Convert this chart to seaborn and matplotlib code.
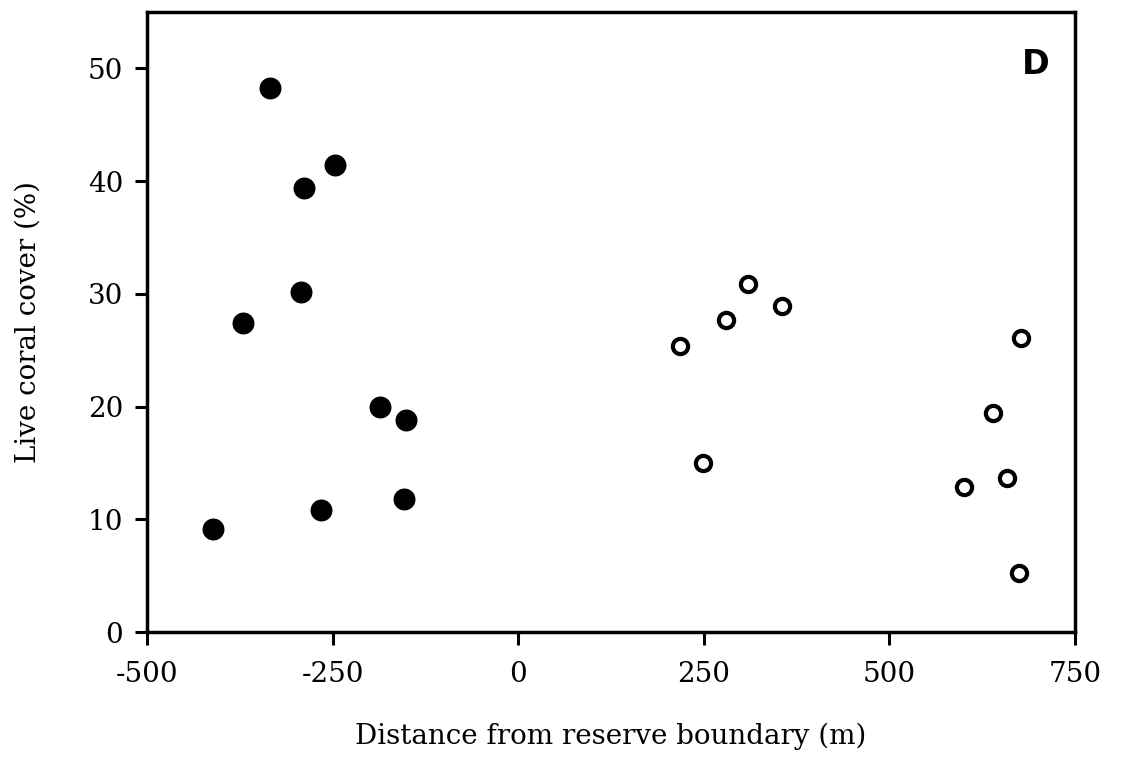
import matplotlib
matplotlib.use("Agg")
import matplotlib.pyplot as plt
import seaborn as sns
import pandas as pd

# Data
inside_distance = [-334, -247, -288, -293, -370, -186, -151, -154, -265, -411]
inside_cover = [48.3, 41.4, 39.4, 30.2, 27.4, 20.0, 18.8, 11.8, 10.8, 9.1]
outside_distance = [309, 355, 280, 218, 677, 640, 249, 601, 659, 674]
outside_cover = [30.9, 28.9, 27.7, 25.4, 26.1, 19.4, 15.0, 12.9, 13.7, 5.2]

x_ticks = [-500, -250, 0, 250, 500, 750]
y_ticks = [0, 10, 20, 30, 40, 50]
x_label = "Distance from reserve boundary (m)"
y_label = "Live coral cover (%)"
panel_label = "D"

sns.set_style("ticks")
plt.rcParams['font.family'] = ['DejaVu Serif']
plt.rcParams['text.color'] = 'black'
plt.rcParams['axes.labelcolor'] = 'black'

df_in = pd.DataFrame({"x": inside_distance, "y": inside_cover})
df_out = pd.DataFrame({"x": outside_distance, "y": outside_cover})

fig = plt.figure(figsize=(11.21, 7.58), dpi=100)
ax = fig.add_axes([0.1311, 0.1662, 0.959 - 0.1311, 0.9842 - 0.1662])

sns.scatterplot(data=df_in, x="x", y="y", ax=ax, color="black", s=250,
                edgecolor="black", linewidth=0, zorder=3)
sns.scatterplot(data=df_out, x="x", y="y", ax=ax, facecolor="white", s=120,
                edgecolor="black", linewidth=3.0, zorder=3)

ax.set_xlim(-500, 750)
ax.set_ylim(0, 55)
ax.set_xticks(x_ticks)
ax.set_yticks(y_ticks)
ax.set_xticklabels([str(v) for v in x_ticks])
ax.set_yticklabels([str(v) for v in y_ticks])

for s in ax.spines.values():
    s.set_linewidth(2.5)
    s.set_color("black")
    s.set_visible(True)

ax.tick_params(axis="both", direction="out", length=9, width=2.2, colors="black",
               labelsize=20, pad=8)
ax.tick_params(axis="x", pad=12)
ax.tick_params(top=False, right=False)

ax.set_xlabel(x_label, fontsize=20, labelpad=25, color="black")
ax.set_ylabel(y_label, fontsize=20, labelpad=33, color="black")

ax.text(0.958, 0.915, panel_label, transform=ax.transAxes, fontsize=24,
        fontweight="bold", family="DejaVu Sans", ha="center", va="center",
        color="black")

fig.savefig("out.png", dpi=100)
